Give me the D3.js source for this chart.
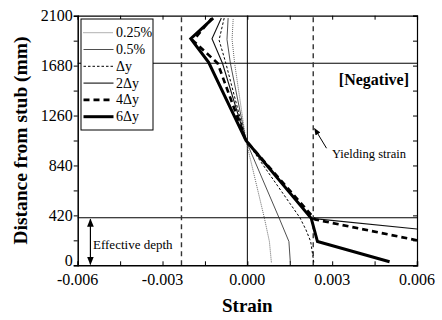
<!DOCTYPE html>
<html>
<head>
<meta charset="utf-8">
<script src="https://cdn.jsdelivr.net/npm/d3@7"></script>
<style>
  html, body { margin: 0; padding: 0; background: #fff; }
  svg { display: block; }
  text { font-family: "Liberation Serif", "Times New Roman", serif; fill: #000; }
</style>
</head>
<body>
<svg id="chart" width="442" height="320"></svg>
<script>
// ---- data ----
const categories = ["0.25%", "0.5%", "\u0394y", "2\u0394y", "4\u0394y", "6\u0394y"];

const h025 = [25, 200, 400, 1050, 1700, 1900, 2080];
const x025 = [0.00085, 0.00078, 0.00060, -0.00005, -0.00045, -0.00054, -0.00050];

const h05 = [25, 200, 400, 1050, 1700, 1900, 2080];
const x05 = [0.00152, 0.00147, 0.00112, -0.00005, -0.00060, -0.00072, -0.00068];

const hDy = [25, 200, 300, 400, 1050, 1700, 1895, 2080];
const xDy = [0.00235, 0.00224, 0.00207, 0.00186, -0.00005, -0.00076, -0.00100, -0.00082];

const h2Dy = [305, 395, 1050, 1700, 1906, 2080];
const x2Dy = [0.00600, 0.00228, -0.00005, -0.00088, -0.00125, -0.00092];

const h4Dy = [210, 385, 1050, 1700, 1890, 2075];
const x4Dy = [0.00600, 0.00240, -0.00005, -0.00105, -0.00192, -0.00127];

const h6Dy = [30, 200, 395, 1050, 1708, 1906, 2080];
const x6Dy = [0.00503, 0.00248, 0.00226, -0.00005, -0.00137, -0.00200, -0.00121];

const xTicks = [-0.006, -0.003, 0.000, 0.003, 0.006];
const xTickLabels = ["-0.006", "-0.003", "0.000", "0.003", "0.006"];
const yTicks = [0, 420, 840, 1260, 1680, 2100];
const yieldStrain = 0.00233;
const effectiveDepth = 400;
const upperLine = 1700;

// ---- layout ----
const svg = d3.select("#chart");
const L = 77.7, R = 417, T = 15.7, B = 265.3;
const x = d3.scaleLinear().domain([-0.006, 0.006]).range([L, R]);
const y = d3.scaleLinear().domain([0, 2100]).range([B, T]);

const series = [
  { name: categories[0], h: h025, v: x025, stroke: "#555", width: 0.9, dash: "1,1" },
  { name: categories[1], h: h05, v: x05, stroke: "#222", width: 0.8, dash: null },
  { name: categories[2], h: hDy, v: xDy, stroke: "#000", width: 1.0, dash: "2.5,2" },
  { name: categories[3], h: h2Dy, v: x2Dy, stroke: "#111", width: 1.1, dash: null },
  { name: categories[4], h: h4Dy, v: x4Dy, stroke: "#000", width: 2.6, dash: "6,4" },
  { name: categories[5], h: h6Dy, v: x6Dy, stroke: "#000", width: 3.0, dash: null }
];

svg.append("clipPath").attr("id", "clip")
  .append("rect").attr("x", L).attr("y", T).attr("width", R - L).attr("height", B - T);

// reference lines
const ref = svg.append("g");
ref.append("line").attr("x1", x(0)).attr("x2", x(0)).attr("y1", y(0)).attr("y2", y(2100))
  .attr("stroke", "#000").attr("stroke-width", 1);
[effectiveDepth, upperLine].forEach(v => {
  ref.append("line").attr("x1", L).attr("x2", R).attr("y1", y(v)).attr("y2", y(v))
    .attr("stroke", "#000").attr("stroke-width", 1);
});
[-yieldStrain, yieldStrain].forEach(v => {
  ref.append("line").attr("x1", x(v)).attr("x2", x(v)).attr("y1", y(0)).attr("y2", y(2100))
    .attr("stroke", "#333").attr("stroke-width", 1.4).attr("stroke-dasharray", "5,4");
});

// series
const line = d3.line().x(d => x(d[0])).y(d => y(d[1]));
const gLines = svg.append("g").attr("clip-path", "url(#clip)");
series.forEach(s => {
  const pts = s.v.map((v, i) => [v, s.h[i]]);
  gLines.append("path").attr("d", line(pts)).attr("fill", "none")
    .attr("stroke", s.stroke).attr("stroke-width", s.width)
    .attr("stroke-dasharray", s.dash).attr("stroke-linejoin", "miter");
});

// axes
const minorY = d3.range(0, 2101, 210);
const minorX = d3.range(-0.006, 0.00601, 0.0015);
svg.append("g").attr("transform", `translate(${L},0)`)
  .call(d3.axisLeft(y).tickValues(minorY).tickSize(4).tickFormat(d => yTicks.includes(d) ? d : ""))
  .call(g => g.select(".domain").attr("stroke-width", 1.5))
  .call(g => g.selectAll("text").attr("font-size", 16).attr("x", -5)
    .attr("dy", d => d === 0 ? "0.0em" : "0.32em"));
svg.append("g").attr("transform", `translate(0,${B})`)
  .call(d3.axisBottom(x).tickValues(minorX).tickSize(-4).tickFormat(() => ""))
  .call(g => g.select(".domain").attr("stroke-width", 1.5));
svg.append("g").attr("transform", `translate(0,${T})`)
  .call(d3.axisTop(x).tickValues(minorX).tickSize(-4).tickFormat(() => ""))
  .call(g => g.select(".domain").attr("stroke-width", 1.2));
svg.append("g").attr("transform", `translate(${R},0)`)
  .call(d3.axisRight(y).tickValues(minorY).tickSize(-4).tickFormat(() => ""))
  .call(g => g.select(".domain").attr("stroke-width", 1.2));

// x tick labels
svg.append("g").selectAll("text").data(xTicks).join("text")
  .attr("x", d => x(d)).attr("y", 285).attr("text-anchor", "middle")
  .attr("font-size", 16).text((d, i) => xTickLabels[i]);

// axis titles
svg.append("text").attr("x", x(0)).attr("y", 312).attr("text-anchor", "middle")
  .attr("font-size", 19).attr("font-weight", "bold").text("Strain");
svg.append("text").attr("transform", `translate(27,${(T + B) / 2}) rotate(-90)`)
  .attr("text-anchor", "middle").attr("font-size", 19.5).attr("font-weight", "bold")
  .text("Distance from stub (mm)");

// annotations
svg.append("text").attr("x", 409).attr("y", 85).attr("text-anchor", "end")
  .attr("font-size", 16).attr("font-weight", "bold").text("[Negative]");
svg.append("text").attr("x", 332).attr("y", 158).attr("font-size", 12.5).text("Yielding strain");

const defs = svg.append("defs");
defs.append("marker").attr("id", "ah").attr("viewBox", "0 0 10 10").attr("refX", 9).attr("refY", 5)
  .attr("markerWidth", 7).attr("markerHeight", 7).attr("orient", "auto-start-reverse")
  .append("path").attr("d", "M0,1 L10,5 L0,9 Z").attr("fill", "#000");

svg.append("line").attr("x1", x(0.0028)).attr("y1", y(985)).attr("x2", x(0.00238)).attr("y2", y(1150))
  .attr("stroke", "#000").attr("stroke-width", 1).attr("marker-end", "url(#ah)");

svg.append("line").attr("x1", x(-0.00555)).attr("x2", x(-0.00555))
  .attr("y1", y(effectiveDepth) + 1.5).attr("y2", y(0) - 1)
  .attr("stroke", "#000").attr("stroke-width", 1.2)
  .attr("marker-start", "url(#ah)").attr("marker-end", "url(#ah)");
svg.append("text").attr("x", 93).attr("y", 249).attr("font-size", 13).text("Effective depth");

// legend
const lg = svg.append("g");
lg.append("rect").attr("x", 81).attr("y", 19).attr("width", 72).attr("height", 111)
  .attr("fill", "#fff").attr("stroke", "#000").attr("stroke-width", 1);
series.forEach((s, i) => {
  const yy = 32.7 + i * 16.8;
  lg.append("line").attr("x1", 83.5).attr("x2", 113.5).attr("y1", yy).attr("y2", yy)
    .attr("stroke", s.stroke).attr("stroke-width", s.width).attr("stroke-dasharray", s.dash);
  lg.append("text").attr("x", 116).attr("y", yy + 4.5).attr("font-size", 14).text(s.name);
});
</script>
</body>
</html>
